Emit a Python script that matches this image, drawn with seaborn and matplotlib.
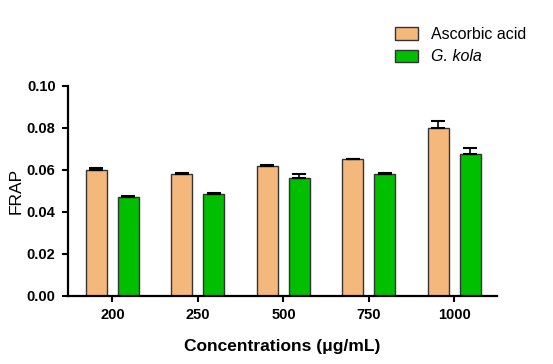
import numpy as np
import pandas as pd
import matplotlib
matplotlib.use('Agg')
import matplotlib.pyplot as plt
import seaborn as sns

# data
concentrations = ['200', '250', '500', '750', '1000']
ascorbic = [0.0600, 0.0580, 0.0620, 0.0650, 0.0800]
ascorbic_err = [0.0008, 0.0003, 0.0004, 0.0004, 0.0033]
gkola = [0.0470, 0.0485, 0.0560, 0.0580, 0.0675]
gkola_err = [0.0004, 0.0004, 0.0020, 0.0007, 0.0028]
series = ['Ascorbic acid', 'G. kola']

sns.set_style('ticks')
plt.rcParams['font.family'] = ['Liberation Sans', 'DejaVu Sans']
plt.rcParams['text.color'] = 'black'
plt.rcParams['axes.labelcolor'] = 'black'

df = pd.DataFrame({
    'conc': concentrations * 2,
    'FRAP': ascorbic + gkola,
    'err': ascorbic_err + gkola_err,
    'sample': [series[0]] * 5 + [series[1]] * 5,
})

fig = plt.figure(figsize=(5.53, 3.64), dpi=100)
ax = fig.add_axes([0.123, 0.187, 0.776, 0.577])

colors = ['#F4B87C', '#00BE00']
sns.barplot(data=df, x='conc', y='FRAP', hue='sample', palette=colors,
            saturation=1, width=0.75, gap=0.345, edgecolor='#333333', linewidth=1.0,
            errorbar=None, ax=ax, legend=True)

# upward-only error bars on each bar
for cont, s in zip(ax.containers, series):
    sub = df[df['sample'] == s]
    xs = [p.get_x() + p.get_width() / 2 for p in cont.patches]
    errs = sub['err'].to_numpy()
    ax.errorbar(xs, sub['FRAP'].to_numpy(), yerr=[np.zeros_like(errs), errs],
                fmt='none', ecolor='black', elinewidth=1.2, capsize=5, capthick=1.5)

ax.set_ylim(0, 0.10)
ax.set_yticks([0, 0.02, 0.04, 0.06, 0.08, 0.10])
ax.set_yticklabels(['0.00', '0.02', '0.04', '0.06', '0.08', '0.10'])
ax.set_xlim(-0.52, 4.5)

ax.set_ylabel('FRAP', fontsize=12.5, labelpad=2, color='black')
ax.set_xlabel('Concentrations (\u03bcg/mL)', fontsize=12.5, fontweight='bold',
              labelpad=12, color='black')
for lab in ax.get_xticklabels() + ax.get_yticklabels():
    lab.set_fontweight('bold')
    lab.set_fontsize(10.5)

sns.despine(ax=ax)
for sp in ['left', 'bottom']:
    ax.spines[sp].set_linewidth(1.6)
    ax.spines[sp].set_color('black')
ax.tick_params(axis='both', direction='out', length=4, width=1.5, colors='black', pad=5)

handles, labels = ax.get_legend_handles_labels()
leg = fig.legend(handles, labels, loc='upper left', bbox_to_anchor=(0.688, 0.965),
                 frameon=False, fontsize=11.5, handlelength=1.45, handleheight=0.8,
                 handletextpad=0.8, labelspacing=0.45, labelcolor='black')
leg.get_texts()[1].set_fontstyle('italic')
ax.get_legend().remove()

fig.savefig('out.png', dpi=100)
